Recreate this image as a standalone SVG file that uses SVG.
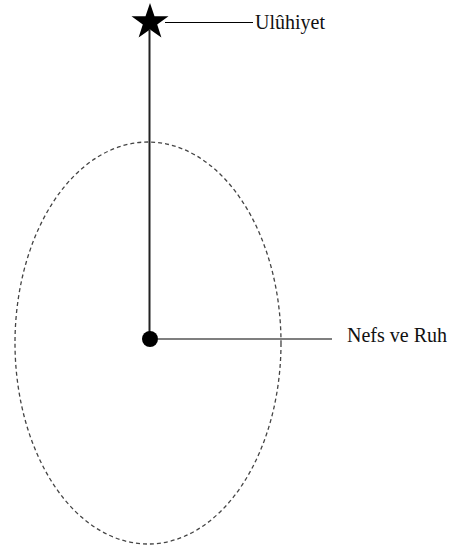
<svg xmlns="http://www.w3.org/2000/svg" width="449" height="554" viewBox="0 0 449 554">
<style>
.lbl{font-family:"Liberation Serif","Times New Roman",serif;font-size:20px;fill:#111}
.ln{stroke:#000;stroke-width:1.2;fill:none}
</style>
<rect width="449" height="554" fill="#fff"/>
<g id="boundary">
<ellipse cx="148" cy="343" rx="133" ry="201" fill="none" stroke="#444" stroke-width="1.3" stroke-dasharray="4,3"/>
</g>
<g id="connectors">
<line x1="149.5" y1="30" x2="149.5" y2="339" stroke="#222" stroke-width="2"/>
<line class="ln" x1="165" y1="22.5" x2="253" y2="22.5"/>
<line class="ln" x1="158" y1="339" x2="332" y2="339"/>
</g>
<g id="uluhiyet">
<polygon points="150,3 154.5,16.2 168.5,16.2 157.2,24.4 161.4,37.6 150,29.5 138.6,37.6 142.8,24.4 131.5,16.2 145.5,16.2" fill="#000"/>
<text class="lbl" x="255" y="28.5">Ulûhiyet</text>
</g>
<g id="nefs">
<circle cx="150" cy="339" r="8" fill="#000"/>
<text class="lbl" x="347" y="341.5">Nefs ve Ruh</text>
</g>
</svg>
